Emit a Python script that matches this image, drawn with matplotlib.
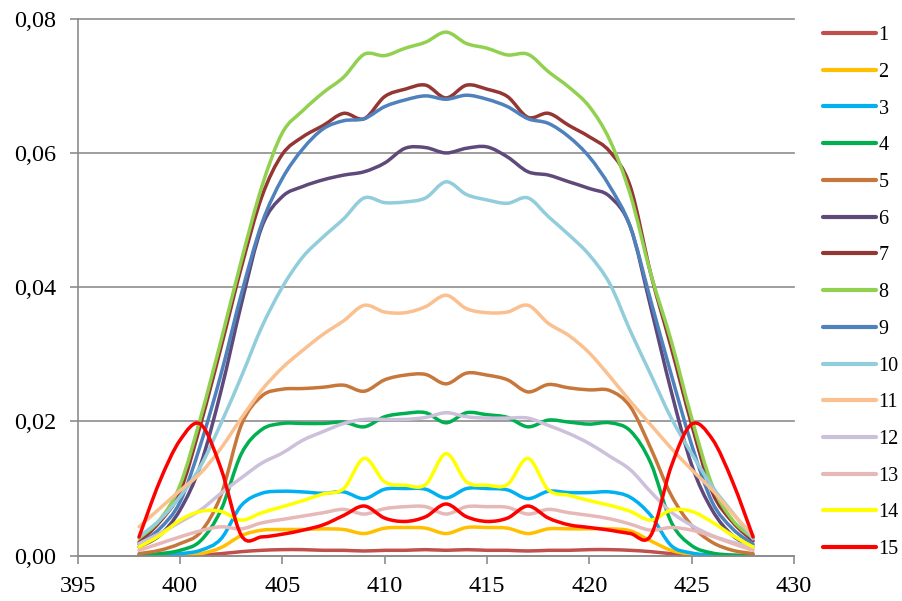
import numpy as np
import matplotlib
matplotlib.use("Agg")
import matplotlib.pyplot as plt
from matplotlib.path import Path
from matplotlib.patches import PathPatch
from matplotlib.lines import Line2D
from matplotlib.ticker import FuncFormatter, MultipleLocator

plt.rcParams["font.family"] = ["Liberation Serif", "DejaVu Serif"]

WAVELENGTH = list(range(398, 429))

S1 = [0.0, 0.0, 0.0, 0.0001, 0.0003, 0.0006, 0.0008, 0.0009, 0.0009, 0.0008, 0.0008,
      0.0007, 0.0008, 0.0008, 0.0009, 0.0008, 0.0009, 0.0008, 0.0008, 0.0007, 0.0008,
      0.0008, 0.0009, 0.0009, 0.0008, 0.0006, 0.0003, 0.0001, 0.0, 0.0, 0.0]
S2 = [0.0, 0.0, 0.0001, 0.0003, 0.0012, 0.0030, 0.0038, 0.0039, 0.0039, 0.0040, 0.0039,
      0.0033, 0.0041, 0.0042, 0.0041, 0.0033, 0.0042, 0.0042, 0.0041, 0.0033, 0.0040,
      0.0040, 0.0040, 0.0040, 0.0037, 0.0022, 0.0008, 0.0002, 0.0, 0.0, 0.0]
S3 = [0.0001, 0.0001, 0.0003, 0.0008, 0.0025, 0.0075, 0.0093, 0.0096, 0.0095, 0.0093, 0.0095,
      0.0085, 0.0099, 0.0100, 0.0099, 0.0086, 0.0100, 0.0100, 0.0098, 0.0085, 0.0096,
      0.0094, 0.0094, 0.0095, 0.0087, 0.0060, 0.0015, 0.0004, 0.0001, 0.0, 0.0]
S4 = [0.0001, 0.0003, 0.0008, 0.0022, 0.0068, 0.0152, 0.0188, 0.0197, 0.0197, 0.0197, 0.0199,
      0.0192, 0.0207, 0.0212, 0.0213, 0.0198, 0.0213, 0.0210, 0.0206, 0.0192, 0.0202,
      0.0199, 0.0196, 0.0198, 0.0186, 0.0138, 0.0050, 0.0015, 0.0004, 0.0001, 0.0]
S5 = [0.0003, 0.0008, 0.0018, 0.0035, 0.0090, 0.0195, 0.0238, 0.0248, 0.0249, 0.0251, 0.0254,
      0.0245, 0.0262, 0.0269, 0.0270, 0.0256, 0.0272, 0.0269, 0.0262, 0.0244, 0.0255,
      0.0250, 0.0247, 0.0246, 0.0222, 0.0160, 0.0090, 0.0045, 0.0020, 0.0008, 0.0003]
S6 = [0.0013, 0.0030, 0.0068, 0.0135, 0.0245, 0.0375, 0.0490, 0.0535, 0.0550, 0.0560, 0.0567,
      0.0572, 0.0585, 0.0607, 0.0608, 0.0600, 0.0607, 0.0609, 0.0594, 0.0572, 0.0567,
      0.0557, 0.0547, 0.0535, 0.0490, 0.0370, 0.0245, 0.0135, 0.0068, 0.0030, 0.0013]
S7 = [0.0020, 0.0050, 0.0095, 0.0195, 0.0310, 0.0430, 0.0535, 0.0598, 0.0624, 0.0641, 0.0659,
      0.0651, 0.0684, 0.0695, 0.0701, 0.0682, 0.0701, 0.0695, 0.0684, 0.0653, 0.0659,
      0.0641, 0.0624, 0.0602, 0.0550, 0.0420, 0.0310, 0.0195, 0.0095, 0.0050, 0.0022]
S8 = [0.0026, 0.0053, 0.0105, 0.0205, 0.0320, 0.0440, 0.0550, 0.0630, 0.0663, 0.0690, 0.0713,
      0.0747, 0.0745, 0.0756, 0.0765, 0.0780, 0.0763, 0.0756, 0.0746, 0.0747, 0.0721,
      0.0698, 0.0669, 0.0619, 0.0538, 0.0420, 0.0320, 0.0205, 0.0105, 0.0053, 0.0026]
S9 = [0.0017, 0.0040, 0.0080, 0.0165, 0.0270, 0.0390, 0.0495, 0.0562, 0.0606, 0.0636, 0.0648,
      0.0651, 0.0669, 0.0679, 0.0685, 0.0680, 0.0686, 0.0680, 0.0669, 0.0651, 0.0644,
      0.0624, 0.0594, 0.0550, 0.0490, 0.0380, 0.0270, 0.0165, 0.0080, 0.0040, 0.0017]
S10 = [0.0028, 0.0053, 0.0088, 0.0133, 0.0197, 0.0267, 0.0341, 0.0400, 0.0445, 0.0475, 0.0502,
       0.0533, 0.0526, 0.0527, 0.0533, 0.0557, 0.0538, 0.0530, 0.0525, 0.0533, 0.0505,
       0.0478, 0.0448, 0.0405, 0.0335, 0.0270, 0.0205, 0.0152, 0.0103, 0.0064, 0.0025]
S11 = [0.0043, 0.0070, 0.0097, 0.0123, 0.0160, 0.0205, 0.0247, 0.0280, 0.0306, 0.0330, 0.0350,
       0.0373, 0.0363, 0.0362, 0.0371, 0.0388, 0.0368, 0.0362, 0.0363, 0.0373, 0.0346,
       0.0328, 0.0302, 0.0267, 0.0230, 0.0195, 0.0160, 0.0128, 0.0098, 0.0063, 0.0030]
S12 = [0.0018, 0.0033, 0.0050, 0.0068, 0.0093, 0.0116, 0.0138, 0.0153, 0.0172, 0.0185, 0.0197,
       0.0203, 0.0203, 0.0203, 0.0206, 0.0213, 0.0207, 0.0205, 0.0205, 0.0205, 0.0194,
       0.0182, 0.0167, 0.0148, 0.0128, 0.0095, 0.0065, 0.0045, 0.0030, 0.0020, 0.0013]
S13 = [0.0008, 0.0018, 0.0028, 0.0037, 0.0043, 0.0040, 0.0049, 0.0054, 0.0059, 0.0064, 0.0069,
       0.0062, 0.0070, 0.0073, 0.0073, 0.0062, 0.0073, 0.0073, 0.0072, 0.0062, 0.0069,
       0.0064, 0.0060, 0.0055, 0.0047, 0.0038, 0.0042, 0.0038, 0.0029, 0.0018, 0.0008]
S14 = [0.0013, 0.0030, 0.0053, 0.0066, 0.0066, 0.0053, 0.0064, 0.0073, 0.0082, 0.0092, 0.0100,
       0.0145, 0.0110, 0.0105, 0.0106, 0.0152, 0.0110, 0.0105, 0.0106, 0.0145, 0.0098,
       0.0090, 0.0082, 0.0075, 0.0066, 0.0053, 0.0068, 0.0066, 0.0050, 0.0030, 0.0013]
S15 = [0.0028, 0.0110, 0.0172, 0.0196, 0.0130, 0.0030, 0.0028, 0.0032, 0.0038, 0.0046, 0.0060,
       0.0074, 0.0056, 0.0051, 0.0058, 0.0077, 0.0058, 0.0051, 0.0056, 0.0074, 0.0056,
       0.0046, 0.0042, 0.0038, 0.0033, 0.0030, 0.0133, 0.0196, 0.0174, 0.0110, 0.0028]

SERIES = [S1, S2, S3, S4, S5, S6, S7, S8, S9, S10, S11, S12, S13, S14, S15]
LABELS = ["1", "2", "3", "4", "5", "6", "7", "8", "9", "10", "11", "12", "13", "14", "15"]
COLORS = ["#C0504D", "#FFC000", "#00B0F0", "#00B050", "#C8773A", "#5F497A", "#943634",
          "#92D050", "#4F81BD", "#92CDDC", "#FAC08F", "#CCC0DA", "#E6B8B7", "#FFFF00", "#FF0000"]
GRID = "#8c8c8c"


def smooth_path(x, y):
    # excel style smoothed line: cubic bezier segments through every point
    x = np.asarray(x, dtype=float)
    y = np.asarray(y, dtype=float)
    n = len(x)
    verts = [(x[0], y[0])]
    codes = [Path.MOVETO]
    for i in range(n - 1):
        i0 = max(i - 1, 0)
        i2 = min(i + 2, n - 1)
        c1 = (x[i] + (x[i + 1] - x[i0]) / 6, y[i] + (y[i + 1] - y[i0]) / 6)
        c2 = (x[i + 1] - (x[i2] - x[i]) / 6, y[i + 1] - (y[i2] - y[i]) / 6)
        verts += [c1, c2, (x[i + 1], y[i + 1])]
        codes += [Path.CURVE4] * 3
    return Path(verts, codes)


def main():
    fig = plt.figure(figsize=(9.02, 6.01), dpi=100)
    ax = fig.add_axes([0.0861, 0.0754, 0.7942, 0.8935])

    for values, color in zip(SERIES, COLORS):
        patch = PathPatch(smooth_path(WAVELENGTH, values), fill=False, edgecolor=color,
                          lw=2.5, capstyle="round", joinstyle="round")
        ax.add_patch(patch)

    ax.set_xlim(395, 430)
    ax.set_ylim(0, 0.08)
    ax.xaxis.set_major_locator(MultipleLocator(5))
    ax.yaxis.set_major_locator(MultipleLocator(0.02))
    ax.yaxis.set_major_formatter(FuncFormatter(lambda v, p: f"{v:.2f}".replace(".", ",")))

    ax.grid(axis="y", color=GRID, lw=1.2)
    ax.set_axisbelow(True)
    for line in ax.yaxis.get_gridlines():
        line.set_clip_on(False)
    for side in ["top", "right"]:
        ax.spines[side].set_visible(False)
    for side in ["left", "bottom"]:
        ax.spines[side].set_color(GRID)
        ax.spines[side].set_linewidth(1.2)
    ax.tick_params(direction="out", length=5.5, width=1.2, color=GRID, labelsize=17.5)
    ax.tick_params(axis="y", pad=10)
    ax.tick_params(axis="x", pad=9)

    handles = [Line2D([], [], color=c, lw=3, solid_capstyle="round") for c in COLORS]
    fig.legend(handles, LABELS, loc="upper left", bbox_to_anchor=(823 / 902, 1 - 26 / 601),
               frameon=False, fontsize=14.5, handlelength=2.64, handletextpad=0.12,
               labelspacing=0.875, borderpad=0, borderaxespad=0)

    fig.savefig("out.png", dpi=100)


if __name__ == "__main__":
    main()
